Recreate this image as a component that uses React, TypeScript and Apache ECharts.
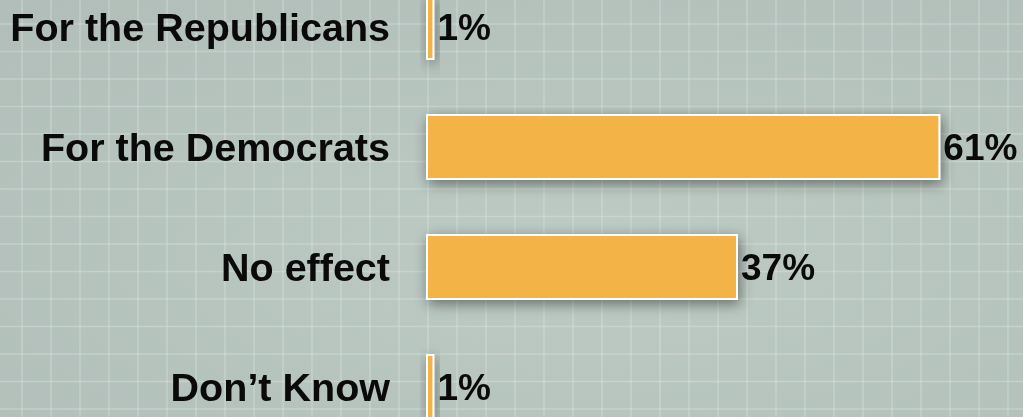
import React, { useEffect, useRef } from "react";
import * as echarts from "echarts";

const categories = ["For the Republicans", "For the Democrats", "No effect", "Don\u2019t Know"];
const values = [1, 61, 37, 1];

export default function App() {
  const ref = useRef<HTMLDivElement>(null);
  useEffect(() => {
    if (!ref.current) return;
    const chart = echarts.init(ref.current, undefined, { renderer: "svg" });
    const W = 1023, H = 417;
    const lines: any[] = [];
    for (let x = 22 - 29; x < W + 29; x += 29) {
      lines.push({ type: "line", shape: { x1: x, y1: 0, x2: x, y2: H }, style: { stroke: "rgba(225,235,230,0.35)", lineWidth: 1.5 }, z: 0 });
    }
    for (let y = 24 - 27.5; y < H + 27.5; y += 27.5) {
      lines.push({ type: "line", shape: { x1: 0, y1: y, x2: W, y2: y }, style: { stroke: "rgba(225,235,230,0.35)", lineWidth: 1.5 }, z: 0 });
    }
    chart.setOption({
      animation: false,
      graphic: [
        {
          type: "rect",
          shape: { x: 0, y: 0, width: W, height: H },
          style: {
            fill: {
              type: "radial", x: 0.58, y: 0.6, r: 1.45,
              colorStops: [
                { offset: 0, color: "#bdcbc4" },
                { offset: 0.6, color: "#b0bdb8" },
                { offset: 1, color: "#9ba4a1" },
              ],
            },
          },
          z: -1,
        },
        ...lines,
      ],
      grid: { left: 426, right: 0, top: -33, height: 480, outerBoundsMode: "none", containLabel: false },
      xAxis: { type: "value", min: 0, max: 70.8, show: false },
      yAxis: {
        type: "category",
        data: categories,
        inverse: true,
        axisLine: { show: false },
        axisTick: { show: false },
        splitLine: { show: false },
        axisLabel: {
          margin: 36,
          color: "#0a0a0a",
          fontFamily: "Liberation Sans, Arial, sans-serif",
          fontWeight: "bold",
          fontSize: 39.5,
        },
      },
      series: [
        {
          type: "bar",
          data: values,
          barWidth: 66,
          itemStyle: {
            color: "#f3b347",
            borderColor: "#ffffff",
            borderWidth: 2,
            shadowBlur: 14,
            shadowColor: "rgba(0,0,0,0.45)",
            shadowOffsetX: 2,
            shadowOffsetY: 4,
          },
          label: {
            show: true,
            position: "right",
            distance: 3,
            formatter: "{c}%",
            color: "#0a0a0a",
            fontFamily: "Liberation Sans, Arial, sans-serif",
            fontWeight: "bold",
            fontSize: 37,
          },
        },
      ],
    });
    return () => chart.dispose();
  }, []);
  return <div ref={ref} style={{ position: "fixed", left: 0, top: 0, width: 1023, height: 417 }} />;
}
